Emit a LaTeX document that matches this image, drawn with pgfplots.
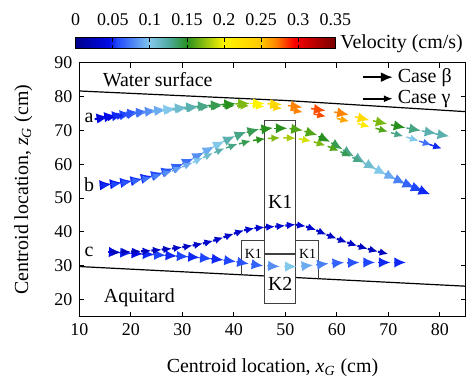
\documentclass[border=0pt]{standalone}
\usepackage{fontspec}
\setmainfont{Liberation Serif}
\usepackage{pgfplots}
\pgfplotsset{compat=1.18}
\usetikzlibrary{arrows.meta}
\pgfplotsset{
  betaq/.style={forget plot, point meta=\thisrow{s},
    quiver={u=\thisrow{u}, v=\thisrow{v}, colored=mapped color,
      every arrow/.append style={line width=0.75bp, -{Latex[length=5.8bp,width=5.2bp]}}}},
  gammaq/.style={forget plot, point meta=\thisrow{s},
    quiver={u=\thisrow{u}, v=\thisrow{v}, colored=mapped color,
      every arrow/.append style={line width=0.75bp, -{Latex[length=4.4bp,width=3.8bp]}}}},
}
\begin{document}
\begin{tikzpicture}
\useasboundingbox (-39.65bp,-31.15bp) rectangle (196.85bp,158.35bp);
\begin{axis}[
  at={(0,0)}, anchor=south west, scale only axis,
  width=193.2bp, height=127.1bp,
  xmin=10, xmax=85, ymin=15, ymax=90,
  xtick={10,20,...,80}, ytick={20,30,...,90},
  tick align=inside, major tick length=2.5bp,
  axis line style={line width=0.6bp},
  every tick/.style={black, line width=0.5bp},
  tick label style={font=\fontsize{9}{9}\selectfont},
  /pgf/number format/assume math mode=true,
  xlabel={Centroid location, \textit{x}\textsubscript{\textit{G}} (cm)},
  ylabel={Centroid location, \textit{z}\textsubscript{\textit{G}} (cm)},
  label style={font=\fontsize{10}{12}\selectfont},
  xlabel style={at={(axis description cs:0.5,-0.202)}, anchor=center},
  ylabel style={at={(axis description cs:-0.145,0.5)}, anchor=center},
  clip=false,
  colormap={vel}{rgb255(0pt)=(0,0,140); rgb255(45pt)=(0,10,230); rgb255(55pt)=(30,70,255); rgb255(100pt)=(130,200,235); rgb255(125pt)=(80,170,160); rgb255(150pt)=(40,145,30); rgb255(200pt)=(255,245,0); rgb255(250pt)=(255,200,0); rgb255(270pt)=(255,130,0); rgb255(295pt)=(250,0,0); rgb255(350pt)=(120,0,0)},
  point meta min=0, point meta max=0.35,
  colorbar horizontal,
  colorbar style={
    at={(parent axis.north west)}, anchor=south west,
    xshift=-1.8bp, yshift=15.6bp,
    scale only axis, width=129.8bp, height=5.2bp,
    xticklabel pos=upper,
    xtick={0,0.05,0.1,0.15,0.2,0.25,0.3,0.35},
    xticklabels={0,0.05,0.1,0.15,0.2,0.25,0.3,0.35},
    xticklabel style={yshift=2.6bp},
    tick align=inside, major tick length=1.8bp,
    every tick/.style={black, line width=0.4bp},
    tick label style={font=\fontsize{9}{9}\selectfont},
    axis line style={line width=0.5bp},
  },
  legend cell align=left,
  legend style={draw=none, fill=none, at={(axis description cs:0.975,0.993)}, anchor=north east,
    font=\fontsize{10}{10}\selectfont, row sep=-1.5bp, inner sep=0pt},
]
\addlegendimage{legend image code/.code={\draw[line width=1bp,-{Latex[length=6bp,width=5bp]}] (0bp,0bp) -- (15bp,0bp);}}
\addlegendentry{Case β}
\addlegendimage{legend image code/.code={\draw[line width=1bp,-{Latex[length=4.5bp,width=3.6bp]}] (0bp,0bp) -- (15bp,0bp);}}
\addlegendentry{Case γ}

% water surface and aquitard
\addplot[black, line width=0.6bp, forget plot] coordinates {(10,81.6) (50,78.8) (85,75.5)};
\addplot[black, line width=0.6bp, forget plot] coordinates {(10,29.8) (46,27.02)};
\addplot[black, line width=0.6bp, forget plot] coordinates {(52,26.55) (85,24)};

% boxes
\draw[black!75, line width=0.6bp, fill=white] (axis cs:46,19) rectangle (axis cs:52,73);
\draw[black!75, line width=0.6bp] (axis cs:46,33.5) -- (axis cs:52,33.5);
\draw[black!75, line width=0.6bp] (axis cs:41.5,27.36) -- (axis cs:41.5,37.6) -- (axis cs:46,37.6);
\draw[black!75, line width=0.6bp] (axis cs:52,37.6) -- (axis cs:56.5,37.6) -- (axis cs:56.5,26.2);

% curve a, case beta
\addplot[betaq] table {
x y u v s
13.0 73.4 2.6 0.6 0.04
14.5 73.8 2.6 0.55 0.045
16.0 74.1 2.6 0.5 0.05
17.5 74.4 2.6 0.5 0.055
19.0 74.8 2.6 0.5 0.06
20.7 75.1 2.6 0.45 0.07
22.4 75.4 2.6 0.45 0.08
24.2 75.7 2.6 0.45 0.09
26.0 76.0 2.6 0.45 0.10
28.0 76.4 2.8 0.4 0.11
30.2 76.7 2.8 0.35 0.12
32.5 77.0 2.8 0.35 0.13
35.0 77.3 2.8 0.3 0.14
37.6 77.6 2.8 0.25 0.15
40.3 77.8 2.8 0.15 0.17
43.2 77.9 2.8 0.0 0.20
46.5 77.8 2.8 -0.2 0.23
50.5 77.3 2.8 -0.5 0.27
55.0 76.4 2.8 -0.6 0.28
59.5 75.4 2.8 -0.8 0.27
63.5 74.0 2.8 -1.0 0.23
67.0 72.8 2.8 -0.95 0.17
70.5 71.6 2.8 -0.85 0.15
73.5 70.7 2.8 -0.8 0.13
76.5 69.8 2.8 -0.75 0.12
79.0 69.0 2.8 -0.75 0.12
};
% curve a, case gamma
\addplot[gammaq] table {
x y u v s
13.0 73.2 2.4 0.55 0.04
14.8 73.6 2.4 0.55 0.045
16.6 74.0 2.4 0.55 0.05
18.4 74.4 2.4 0.5 0.06
20.3 74.8 2.4 0.45 0.07
22.2 75.1 2.4 0.4 0.08
24.1 75.4 2.4 0.4 0.09
26.1 75.7 2.4 0.35 0.10
28.2 76.0 2.4 0.35 0.11
30.4 76.3 2.4 0.3 0.12
32.8 76.6 2.4 0.3 0.13
35.2 76.9 2.4 0.25 0.14
37.8 77.1 2.4 0.15 0.15
40.6 77.2 2.4 0.0 0.17
43.6 77.2 2.4 -0.2 0.20
47.0 76.9 2.4 -0.5 0.24
51.0 76.0 2.4 -0.65 0.27
55.5 74.8 2.4 -0.7 0.28
60.0 73.5 2.4 -0.85 0.26
64.0 72.0 2.4 -0.95 0.21
67.5 70.6 2.4 -1.0 0.16
70.5 69.3 2.4 -1.05 0.13
73.5 68.0 2.4 -1.1 0.10
76.0 66.8 2.4 -1.15 0.07
78.0 65.8 2.4 -1.2 0.05
};
% curve b, case beta
\addplot[betaq] table {
x y u v s
14.0 53.8 2.2 0.35 0.04
16.0 54.1 2.2 0.45 0.045
18.0 54.5 2.2 0.55 0.05
20.0 55.0 2.2 0.65 0.05
22.0 55.7 2.2 0.8 0.05
24.0 56.5 2.2 1.0 0.055
26.0 57.5 2.2 1.2 0.06
28.0 58.7 2.2 1.4 0.065
30.0 60.1 2.2 1.6 0.07
32.0 61.7 2.2 1.8 0.08
34.0 63.4 2.2 1.85 0.09
36.0 65.1 2.2 1.75 0.10
38.0 66.7 2.2 1.6 0.12
40.2 68.2 2.2 1.3 0.13
42.5 69.4 2.4 0.95 0.14
45.0 70.2 2.6 0.5 0.15
47.8 70.6 2.6 0.0 0.15
50.8 70.5 2.6 -0.5 0.16
53.7 69.7 2.5 -1.1 0.16
56.4 68.2 2.3 -1.6 0.15
58.9 66.3 2.2 -1.9 0.14
61.2 64.2 2.1 -1.9 0.13
63.4 62.2 2.1 -1.85 0.12
65.5 60.3 2.1 -1.8 0.11
67.5 58.6 2.1 -1.7 0.10
69.4 57.1 2.1 -1.6 0.09
71.2 55.7 2.1 -1.5 0.075
72.9 54.5 2.1 -1.45 0.065
74.5 53.4 2.1 -1.4 0.055
76.0 52.4 2.1 -1.3 0.05
};
% curve b, case gamma
\addplot[gammaq] table {
x y u v s
14.0 53.6 2.0 0.3 0.05
16.0 53.9 2.0 0.4 0.055
18.0 54.3 2.0 0.5 0.06
20.0 54.8 2.0 0.6 0.065
22.0 55.4 2.0 0.7 0.07
24.0 56.1 2.0 0.9 0.075
26.0 57.0 2.0 1.0 0.08
28.0 58.0 2.0 1.2 0.085
30.0 59.2 2.0 1.3 0.09
32.0 60.5 2.0 1.4 0.10
34.0 61.9 2.0 1.4 0.11
36.2 63.4 2.0 1.3 0.12
38.5 64.8 2.2 1.15 0.13
41.0 66.0 2.3 0.9 0.14
43.7 67.0 2.4 0.5 0.15
46.6 67.6 2.4 0.2 0.17
49.6 67.8 2.4 -0.15 0.18
52.6 67.5 2.4 -0.7 0.19
55.5 66.6 2.3 -1.1 0.17
58.2 65.3 2.2 -1.4 0.16
60.7 63.7 2.1 -1.5 0.14
63.0 62.0 2.0 -1.5 0.13
65.2 60.3 2.0 -1.5 0.11
67.3 58.7 2.0 -1.5 0.10
69.3 57.2 2.0 -1.45 0.09
71.2 55.8 2.0 -1.4 0.075
73.0 54.5 2.0 -1.4 0.065
74.6 53.4 2.0 -1.3 0.055
76.0 52.4 2.0 -1.2 0.05
};
% curve c, case beta
\addplot[betaq] table {
x y u v s
15.6 34.1 2.4 -0.2 0.045
17.8 33.9 2.4 -0.2 0.05
20.0 33.7 2.4 -0.2 0.045
22.2 33.5 2.4 -0.2 0.05
24.4 33.3 2.4 -0.2 0.055
26.6 33.1 2.4 -0.2 0.05
28.8 32.9 2.4 -0.2 0.055
31.0 32.7 2.4 -0.25 0.05
33.3 32.4 2.4 -0.3 0.055
35.6 32.1 2.4 -0.35 0.05
38.0 31.7 2.4 -0.45 0.055
40.5 31.2 2.4 -0.6 0.06
43.3 30.5 2.4 -0.5 0.065
46.5 30.0 2.4 -0.2 0.08
49.8 29.8 2.4 0.0 0.10
53.0 29.9 2.4 0.3 0.09
56.0 30.3 2.4 0.4 0.075
59.0 30.7 2.4 0.3 0.065
62.0 30.9 2.4 0.1 0.06
65.0 31.0 2.4 0.0 0.055
68.0 31.0 2.4 0.0 0.05
71.0 31.0 2.4 0.0 0.05
};
% curve c, case gamma
\addplot[gammaq, quiver={every arrow/.append style={line width=1.1bp}}] table {
x y u v s
16.0 34.0 2.0 0.05 0.025
18.0 34.1 2.0 0.05 0.025
20.0 34.2 2.0 0.1 0.025
22.0 34.3 2.0 0.2 0.025
24.0 34.5 2.0 0.3 0.025
26.0 34.8 2.0 0.3 0.025
28.0 35.1 2.0 0.4 0.028
30.0 35.5 2.0 0.5 0.028
32.0 36.0 2.0 0.6 0.03
34.0 36.6 2.0 0.8 0.03
36.0 37.4 2.0 1.0 0.03
38.0 38.4 2.0 1.1 0.03
40.0 39.5 2.0 1.0 0.032
42.0 40.5 2.0 0.6 0.032
44.0 41.1 2.0 0.3 0.032
46.0 41.4 2.0 0.2 0.035
48.0 41.6 2.0 0.3 0.035
50.0 41.9 2.0 0.3 0.035
52.0 42.1 2.0 -0.4 0.035
54.0 41.6 2.0 -1.0 0.032
56.0 40.5 2.0 -1.3 0.03
58.0 39.2 2.0 -1.2 0.03
60.0 38.0 2.0 -1.1 0.028
62.0 36.9 2.0 -1.0 0.028
64.0 35.9 2.0 -0.9 0.025
66.0 35.0 2.0 -0.8 0.025
68.0 34.2 2.0 -0.7 0.025
};

% texts
\node[anchor=west, inner sep=0, font=\fontsize{10}{10}\selectfont] at (axis cs:14.5,84.9) {Water surface};
\node[anchor=west, inner sep=0, font=\fontsize{10}{10}\selectfont] at (axis cs:14.7,20.5) {Aquitard};
\node[inner sep=0, font=\fontsize{10}{10}\selectfont] at (axis cs:11.9,73.7) {a};
\node[inner sep=0, font=\fontsize{10}{10}\selectfont] at (axis cs:11.9,54.0) {b};
\node[inner sep=0, font=\fontsize{10}{10}\selectfont] at (axis cs:11.9,34.2) {c};
\node[inner sep=0, font=\fontsize{10}{10}\selectfont] at (axis cs:49,49) {K1};
\node[inner sep=0, font=\fontsize{10}{10}\selectfont] at (axis cs:49,24.6) {K2};
\node[inner sep=0, font=\fontsize{7}{7}\selectfont] at (axis cs:43.8,33.6) {K1};
\node[inner sep=0, font=\fontsize{7}{7}\selectfont] at (axis cs:54.3,33.6) {K1};
\node[anchor=west, inner sep=0, font=\fontsize{10}{10}\selectfont] at (axis description cs:0.6747,1.0755) {Velocity (cm/s)};
\end{axis}
\end{tikzpicture}
\end{document}
